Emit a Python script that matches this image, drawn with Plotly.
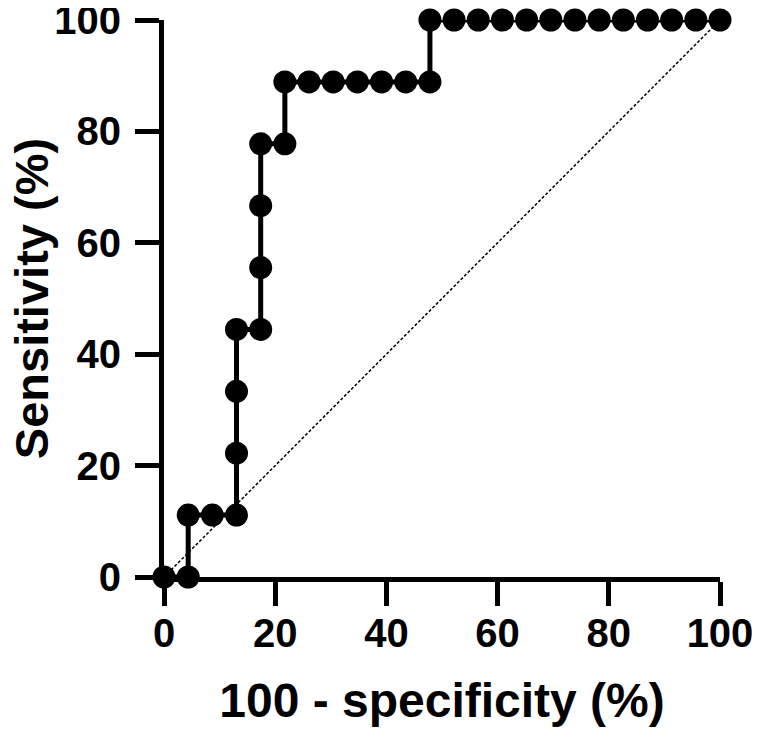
import plotly.graph_objects as go

# ROC curve points (100 - specificity, sensitivity), in %
fpr = [0, 4.35, 4.35, 8.7, 13.04, 13.04, 13.04, 13.04, 17.39, 17.39, 17.39, 17.39,
       21.74, 21.74, 26.09, 30.43, 34.78, 39.13, 43.48, 47.83, 47.83, 52.17, 56.52,
       60.87, 65.22, 69.57, 73.91, 78.26, 82.61, 86.96, 91.3, 95.65, 100]
tpr = [0, 0, 11.11, 11.11, 11.11, 22.22, 33.33, 44.44, 44.44, 55.56, 66.67, 77.78,
       77.78, 88.89, 88.89, 88.89, 88.89, 88.89, 88.89, 88.89, 100, 100, 100,
       100, 100, 100, 100, 100, 100, 100, 100, 100, 100]
ref_x = [0, 100]
ref_y = [0, 100]
tick_vals = [0, 20, 40, 60, 80, 100]

font_family = "Liberation Sans, Arial, sans-serif"

fig = go.Figure()
# chance line
fig.add_trace(go.Scatter(
    x=ref_x, y=ref_y, mode="lines",
    line=dict(color="black", width=1.5, dash="3px,2px"),
    showlegend=False, cliponaxis=False,
))
fig.add_trace(go.Scatter(
    x=fpr, y=tpr, mode="lines+markers",
    line=dict(color="black", width=5),
    marker=dict(color="black", size=23),
    showlegend=False, cliponaxis=False,
))

axis_common = dict(
    range=[0, 100], tickvals=tick_vals, showgrid=False, zeroline=False,
    showline=True, linecolor="black", linewidth=5, automargin=False,
    ticks="outside", ticklen=24, tickwidth=5, tickcolor="black",
    ticklabeloverflow="allow",
    tickfont=dict(family=font_family, size=40, color="black", weight="bold"),
)

# page body adds an 8px margin, so the figure is 8px smaller each way
fig.update_layout(
    width=752, height=725,
    paper_bgcolor="white", plot_bgcolor="white",
    margin=dict(l=156, r=40, t=12, b=156),
    xaxis=dict(**axis_common, ticklabelstandoff=-7,
               title=dict(text="100 - specificity (%)", standoff=31,
                          font=dict(family=font_family, size=48, color="black", weight="bold"))),
    yaxis=dict(**axis_common, ticklabelstandoff=6),
)
# y title as annotation so it can sit closer to the page edge
fig.add_annotation(
    text="Sensitivity (%)", textangle=-90, showarrow=False, borderpad=0,
    xref="paper", yref="paper", x=-0.238, y=0.5, xanchor="center", yanchor="middle",
    font=dict(family=font_family, size=47, color="black", weight="bold"),
)

fig.write_html("out.html")
